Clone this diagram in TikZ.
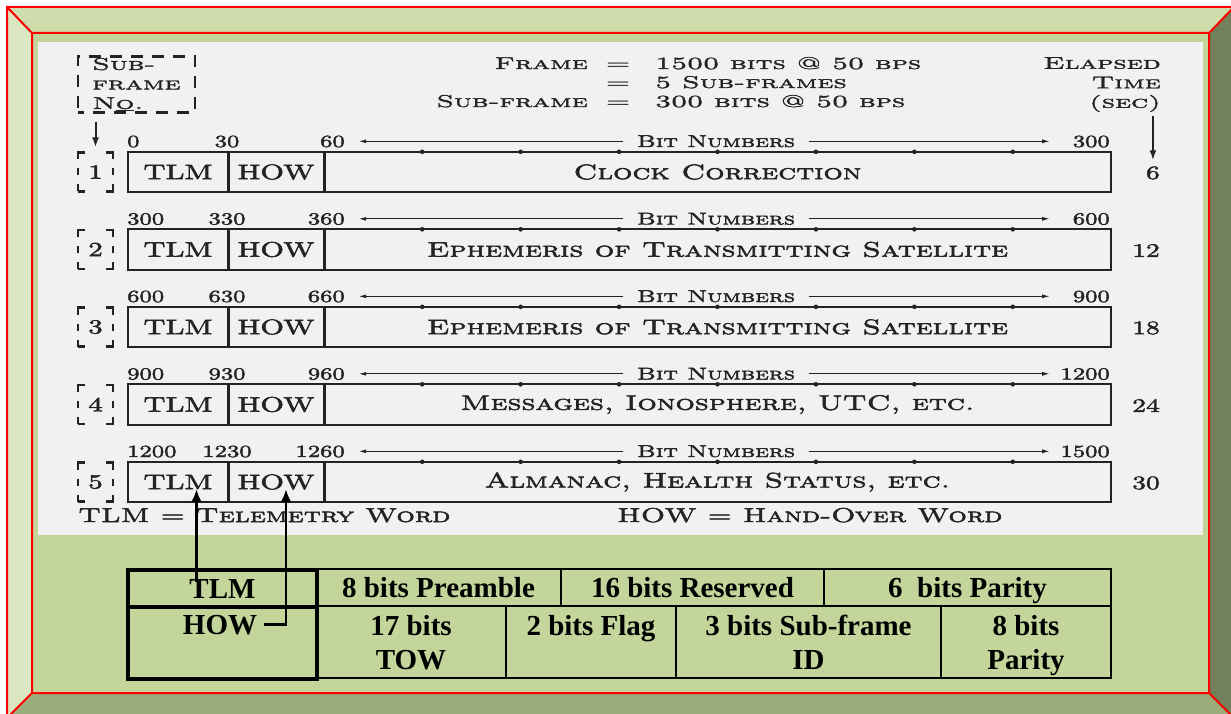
\documentclass[tikz,border=0pt]{standalone}
\usepackage{fontspec}
\usepackage{tikz}
\usetikzlibrary{arrows.meta, calc}
\newfontfamily\scanfont{lmroman10-regular}[Extension=.otf, SmallCapsFont=lmromancaps10-regular,
  SmallCapsFeatures={FakeStretch=1.45, FakeBold=2.5}, FakeStretch=1.45, FakeBold=2.5]
\newfontfamily\scanwide{lmroman10-regular}[Extension=.otf, SmallCapsFont=lmromancaps10-regular,
  SmallCapsFeatures={FakeStretch=1.7, FakeBold=2}, FakeStretch=1.7, FakeBold=2]
\newfontfamily\tabfont{Liberation Serif}
\newcommand\cellstrut{\rule[-7pt]{0pt}{34pt}}
\definecolor{bevel_top}{RGB}{206, 221, 171}
\definecolor{bevel_left}{RGB}{220, 230, 194}
\definecolor{bevel_bottom}{RGB}{155, 171, 122}
\definecolor{bevel_right}{RGB}{114, 129, 89}
\definecolor{face}{RGB}{195, 213, 155}
\definecolor{panel}{RGB}{241, 241, 241}
\definecolor{ink}{RGB}{35, 35, 35}

\begin{document}
\begin{tikzpicture}[x=1pt, y=-1pt,
    scan/.style={font=\scanfont\fontsize{17}{19}\selectfont\scshape, text=ink, inner sep=0pt},
    scanhd/.style={font=\scanwide\fontsize{17}{19.5}\selectfont\scshape, text=ink, inner sep=0pt},
    digit/.style={font=\scanfont\fontsize{17}{19}\selectfont, text=ink, inner sep=0pt},
    word/.style={font=\scanfont\fontsize{21}{24}\selectfont, text=ink, inner sep=0pt, minimum height=40},
    corner/.style={draw=ink, line width=2.2pt, dash pattern=on 14pt off 21pt on 14pt off 9pt on 7pt off 9pt,
      dash phase=7pt, minimum width=35, minimum height=39, inner sep=0pt,
      font=\scanfont\fontsize{20}{22}\selectfont, text=ink},
    boxline/.style={draw=ink, line width=2pt},
    divline/.style={draw=ink, line width=3pt},
    bitarr/.style={-{Latex[length=8pt, width=4pt]}, draw=ink, line width=1.3pt},
    downarr/.style={-{Latex[length=10pt, width=7pt]}, draw=ink, line width=2pt},
    linkarr/.style={-{Latex[length=13pt, width=11pt]}, line width=2.5pt},
    tcell/.style={draw, line width=2pt, anchor=north west, inner sep=0pt, align=center,
      font=\tabfont\bfseries\fontsize{29}{34}\selectfont},
    tthick/.style={tcell, line width=4pt}]
  \useasboundingbox (0,0) rectangle (1231,714);
  % bevelled frame
  \fill[bevel_top] (7,7) -- (1234,7) -- (1209,33) -- (32,33) -- cycle;
  \fill[bevel_left] (7,7) -- (32,33) -- (32,693) -- (7,718) -- cycle;
  \fill[bevel_bottom] (7,718) -- (32,693) -- (1209,693) -- (1234,718) -- cycle;
  \fill[bevel_right] (1234,7) -- (1209,33) -- (1209,693) -- (1234,718) -- cycle;
  \fill[face] (32,33) rectangle (1209,693);
  \fill[panel] (38,42) rectangle (1203,535);
  \draw[red, line width=2pt] (7,718) -- (7,7) -- (1234,7) (32,33) rectangle (1209,693)
    (7,7) -- (32,33) (1234,7) -- (1209,33) (7,718) -- (32,693) (1234,718) -- (1209,693);

  % header
  \node[scanhd, align=left, minimum width=117, minimum height=56, draw=ink, line width=2.2pt,
    dash pattern=on 12pt off 9pt, dash phase=6pt] (sfno) at (136.5,84.5) {Sub-\\frame\\N\underline{o}.};
  \node[scanhd, anchor=base east] (fr1) at (588,69) {Frame};
  \node[scanhd, anchor=base] (eq1) at (618,69) {=};
  \node[scanhd, anchor=base west] (fv1) at (655,69) {1500 bits @ 50 bps};
  \node[scanhd, anchor=base] (eq2) at (618,88) {=};
  \node[scanhd, anchor=base west] (fv2) at (655,88) {5 Sub-frames};
  \node[scanhd, anchor=base east] (fr3) at (588,107) {Sub-frame};
  \node[scanhd, anchor=base] (eq3) at (618,107) {=};
  \node[scanhd, anchor=base west] (fv3) at (655,107) {300 bits @ 50 bps};
  \node[scanhd, align=right, anchor=north east] (etime) at (1161,57) {Elapsed\\Time\\(sec)};

  % sub-frames
  \foreach \k/\a/\b/\c/\d/\txt/\e in {1/0/30/60/300/{Clock Correction}/6,
      2/300/330/360/600/{Ephemeris of Transmitting Satellite}/12,
      3/600/630/660/900/{Ephemeris of Transmitting Satellite}/18,
      4/900/930/960/1200/{Messages, Ionosphere, UTC, etc.}/24,
      5/1200/1230/1260/1500/{Almanac, Health Status, etc.}/30} {
    \pgfmathsetmacro\rowy{152+77.5*(\k-1)}
    \node[corner] (no\k) at (95.5,\rowy+20) {\k};
    \node[word, minimum width=100] (tlm\k) at (178,\rowy+20) {TLM};
    \node[word, minimum width=96] (how\k) at (276,\rowy+20) {HOW};
    \node[word, minimum width=787] (body\k) at (717.5,\rowy+20) {\scshape\txt};
    \draw[boxline] (tlm\k.north west) rectangle (body\k.south east);
    \draw[divline] (tlm\k.north east) -- (tlm\k.south east);
    \draw[divline] (how\k.north east) -- (how\k.south east);
    \foreach \t in {1,...,7}
      \fill[ink] ($(body\k.north west)!\t/8!(body\k.north east)$) circle (2.3);
    \node[digit, anchor=base west] (na\k) at (127,\rowy-5) {\a};
    \node[digit, anchor=base] (nb\k) at (227,\rowy-5) {\b};
    \node[digit, anchor=base east] (nc\k) at (345,\rowy-5) {\c};
    \node[digit, anchor=base east] (nd\k) at (1110,\rowy-5) {\d};
    \node[scan, anchor=base, inner xsep=14pt] (bits\k) at (716,\rowy-5) {Bit Numbers};
    \draw[bitarr, shorten >=34pt] (bits\k.west) -- (bits\k.west -| how\k.east);
    \draw[bitarr, shorten >=61pt] (bits\k.east) -- (bits\k.east -| body\k.east);
    \node[digit, font=\scanfont\fontsize{19}{21}\selectfont, anchor=east] (et\k) at (1160,\rowy+21) {\e};
  }
  \draw[downarr, shorten >=4pt] ($(sfno.south -| no1.north)+(0,8)$) -- (no1.north);
  \draw[downarr, shorten >=6pt] ($(etime.south -| et1.north)+(0,4)$) -- (et1.north);

  \node[scan, font=\scanfont\fontsize{20}{22}\selectfont\scshape, anchor=base west] (tlmkey)
    at (78,522) {TLM = Telemetry Word};
  \node[scan, font=\scanfont\fontsize{20}{22}\selectfont\scshape, anchor=base west] (howkey)
    at (617,522) {HOW = Hand-Over Word};

  % word table
  \node[tcell, minimum width=245, minimum height=37] (cPre) at (315,568) {8 bits Preamble\cellstrut};
  \node[tcell, minimum width=263, minimum height=37] (cRes) at (560,568) {16 bits Reserved\cellstrut};
  \node[tcell, minimum width=287, minimum height=37] (cPar) at (823,568) {6~ bits Parity\cellstrut};
  \node[tcell, minimum width=190, minimum height=72] (cTOW) at (315,605) {17 bits\cellstrut\\TOW\cellstrut};
  \node[tcell, minimum width=170, minimum height=72] (cFlag) at (505,605) {2 bits Flag\cellstrut\\\cellstrut};
  \node[tcell, minimum width=265, minimum height=72] (cSub) at (675,605) {3 bits Sub-frame\cellstrut\\ID\cellstrut};
  \node[tcell, minimum width=170, minimum height=72] (cPar2) at (940,605) {8 bits\cellstrut\\Parity\cellstrut};
  \node[tthick, minimum width=189, minimum height=37] (cTLM) at (126,568) {TLM\cellstrut};
  \node[tthick, minimum width=189, minimum height=72] (cHOW) at (126,605) {};
  \node[font=\tabfont\bfseries\fontsize{29}{34}\selectfont, inner sep=0pt, anchor=base] (lHOW)
    at (220,634) {HOW};

  \draw[linkarr] ($(cTLM.center)+(-26,-7)$) coordinate (tlmfoot) -- (tlmfoot |- tlm5.base);
  \draw[linkarr] ([xshift=7pt]lHOW.east) -| ([xshift=10pt]how5.base);
\end{tikzpicture}
\end{document}
